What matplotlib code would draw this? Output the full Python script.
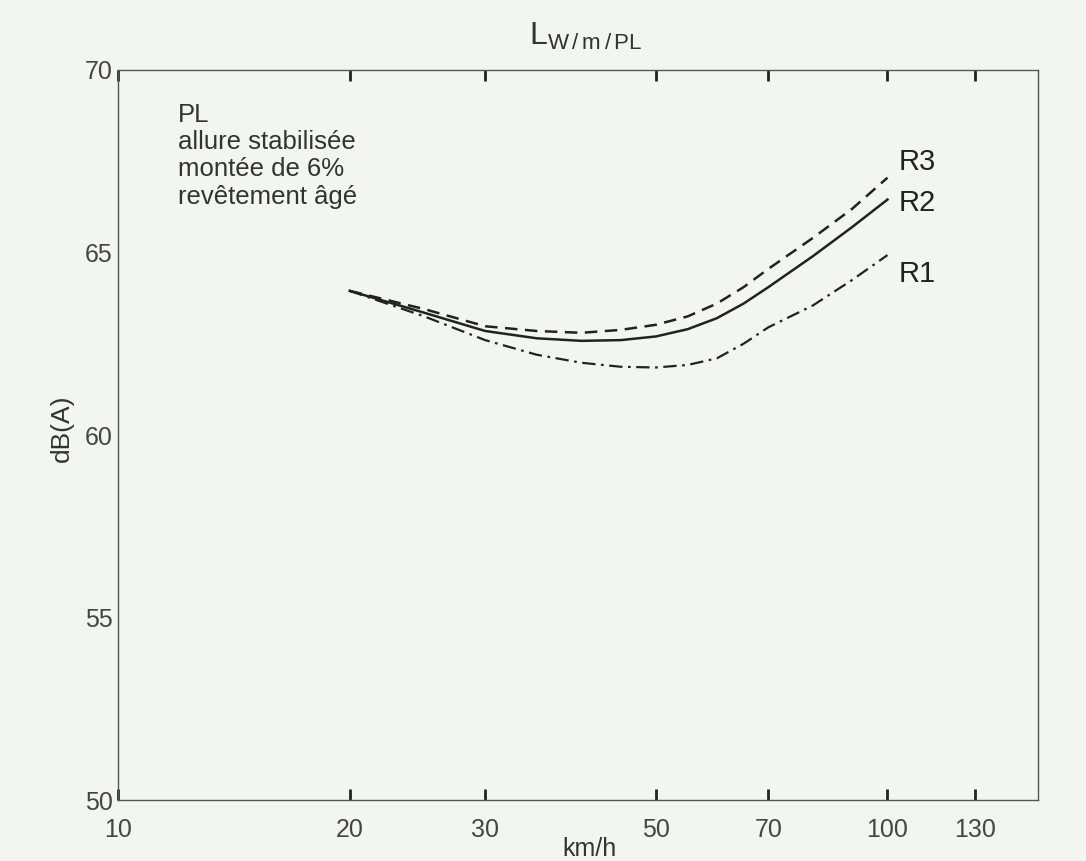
import matplotlib.pyplot as plt

# vitesse (km/h) et niveaux
speed = [20, 25, 30, 35, 40, 45, 50, 55, 60, 65, 70, 80, 90, 100]
r1 = [63.95, 63.25, 62.6, 62.2, 61.98, 61.87, 61.85, 61.92, 62.1, 62.5, 62.95, 63.55, 64.25, 64.93]
r2 = [63.95, 63.35, 62.85, 62.65, 62.58, 62.6, 62.7, 62.9, 63.2, 63.6, 64.05, 64.9, 65.7, 66.45]
r3 = [63.95, 63.45, 62.98, 62.85, 62.8, 62.88, 63.02, 63.25, 63.6, 64.05, 64.55, 65.4, 66.2, 67.05]

x_ticks = [10, 20, 30, 50, 70, 100, 130]
y_ticks = [50, 55, 60, 65, 70]

bg = '#f3f5f3'
grey = '#454545'

plt.rcParams['font.family'] = ['Liberation Sans', 'DejaVu Sans']

fig = plt.figure(figsize=(10.86, 8.61), dpi=100, facecolor=bg)
ax = fig.add_axes([0.1087, 0.0708, 0.8473, 0.8479])
ax.set_facecolor(bg)

ax.plot(speed, r3, color='#222222', lw=1.8, linestyle=(0, (5, 3)))
ax.plot(speed, r2, color='#222222', lw=1.8, linestyle='-')
ax.plot(speed, r1, color='#222222', lw=1.6, linestyle=(0, (6, 2.5, 1.2, 2.5)))

ax.set_xscale('log')
ax.set_xlim(10.1, 157)
ax.set_ylim(50, 70)
ax.minorticks_off()
ax.set_xticks(x_ticks)
ax.set_xticklabels([str(v) for v in x_ticks])
ax.set_yticks(y_ticks)

ax.tick_params(axis='x', direction='in', length=8, width=2, colors='#222222',
               top=True, labelcolor=grey, labelsize=18, pad=13)
ax.tick_params(axis='y', length=0, labelcolor=grey, labelsize=18, pad=4)

for s in ax.spines.values():
    s.set_color('#555555')
    s.set_linewidth(1.0)

# libellés des courbes
ax.text(103.5, 67.48, 'R3', fontsize=21, color='#222222', va='center')
ax.text(103.5, 66.36, 'R2', fontsize=21, color='#222222', va='center')
ax.text(103.5, 64.4, 'R1', fontsize=21, color='#222222', va='center')

ax.text(0.065, 0.955, 'PL\nallure stabilisée\nmontée de 6%\nrevêtement âgé',
        transform=ax.transAxes, fontsize=18.5, color='#333333', va='top',
        linespacing=1.17)

fig.text(0.539, 0.958, r'$\mathregular{L_{W\,/\,m\,/\,PL}}$', fontsize=23,
         color='#333333', ha='center', va='center')
fig.text(0.057, 0.503, 'dB(A)', rotation=90, fontsize=19, color='#333333',
         ha='center', va='center')
fig.text(0.543, 0.0, 'km/h', fontsize=18, color='#333333', ha='center',
         va='bottom')

fig.savefig('out.png', dpi=100, facecolor=bg)
